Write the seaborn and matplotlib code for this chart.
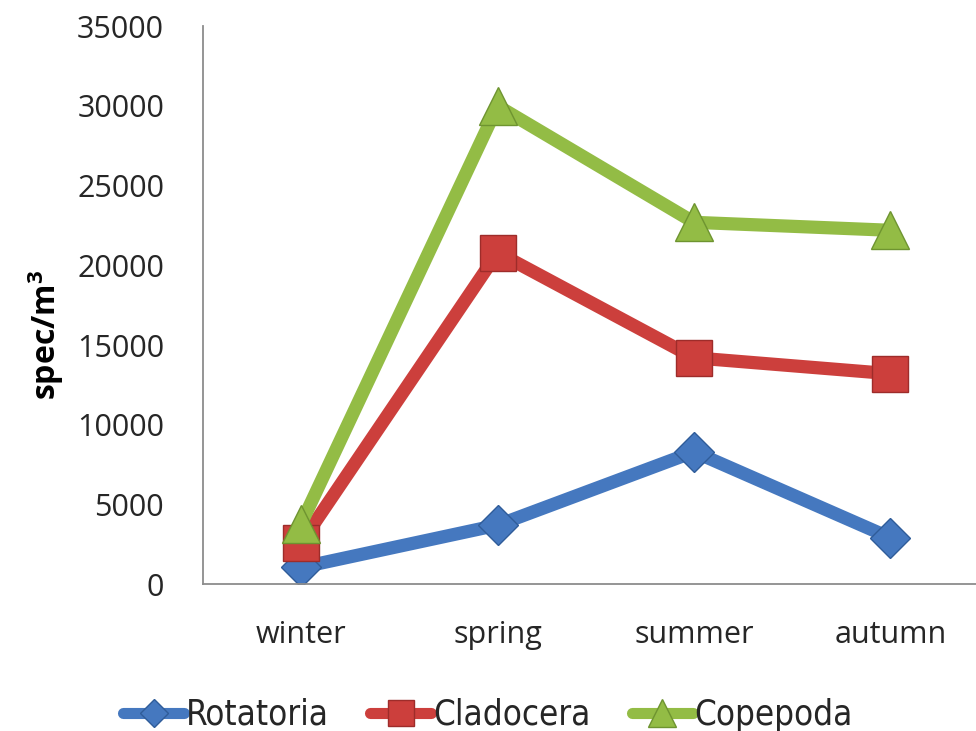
import matplotlib
matplotlib.use("Agg")
import matplotlib.pyplot as plt
import seaborn as sns
import pandas as pd

seasons = ["winter", "spring", "summer", "autumn"]
rotatoria = [1050, 3700, 8300, 2900]
cladocera = [2600, 20800, 14200, 13200]
copepoda = [3800, 30000, 22700, 22200]
groups = ["Rotatoria", "Cladocera", "Copepoda"]
y_ticks = [0, 5000, 10000, 15000, 20000, 25000, 30000, 35000]

df = pd.DataFrame({
    "season": seasons * 3,
    "x": list(range(len(seasons))) * 3,
    "value": rotatoria + cladocera + copepoda,
    "group": [g for g in groups for _ in seasons],
})

sns.set_theme(style="white")
plt.rcParams["font.family"] = ["Open Sans", "DejaVu Sans"]

palette = {"Rotatoria": "#4578BF", "Cladocera": "#CC3F3C", "Copepoda": "#93BC45"}
markers = {"Rotatoria": "D", "Cladocera": "s", "Copepoda": "^"}
msizes = {"Rotatoria": 20, "Cladocera": 26, "Copepoda": 28}
edges = {"Rotatoria": "#2F5C99", "Cladocera": "#9E2C2A", "Copepoda": "#6E9430"}

fig = plt.figure(figsize=(9.76, 7.31), dpi=100)
ax = fig.add_axes([0.208, 0.201, 0.805, 0.763])

for g in groups:
    sub = df[df["group"] == g]
    sns.lineplot(data=sub, x="x", y="value", ax=ax, color=palette[g],
                 linewidth=9.5, marker=markers[g], markersize=msizes[g],
                 markeredgecolor=edges[g], markeredgewidth=1.0,
                 label=g, sort=False, solid_joinstyle="miter")

ax.set_xlim(-0.5, 3.5)
ax.set_ylim(0, 35000)
ax.set_xticks(range(len(seasons)))
ax.set_xticklabels(seasons)
ax.set_yticks(y_ticks)
ax.set_yticklabels([str(v) for v in y_ticks])
ax.tick_params(axis="both", length=0, labelsize=22, colors="#262626")
ax.tick_params(axis="y", pad=28)
ax.tick_params(axis="x", pad=26)
ax.set_xlabel("")
ax.set_ylabel("spec/m$^\\mathregular{3}$", fontsize=23, fontweight="bold",
              color="black")
ax.yaxis.set_label_coords(-0.174, 0.446)

for side in ["top", "right"]:
    ax.spines[side].set_visible(False)
for side in ["left", "bottom"]:
    ax.spines[side].set_color("#8C8C8C")
    ax.spines[side].set_linewidth(1.3)

leg = ax.legend(loc="center", ncol=3, frameon=False,
                prop={"family": "DejaVu Sans", "stretch": "condensed", "size": 25},
                handlelength=1.75, columnspacing=1.2, handletextpad=0.05,
                markerscale=0.7)
leg.set_bbox_to_anchor((0.5, 0.022), transform=fig.transFigure)
for line in leg.get_lines():
    line.set_linewidth(8)

fig.savefig("out.png", dpi=100)
